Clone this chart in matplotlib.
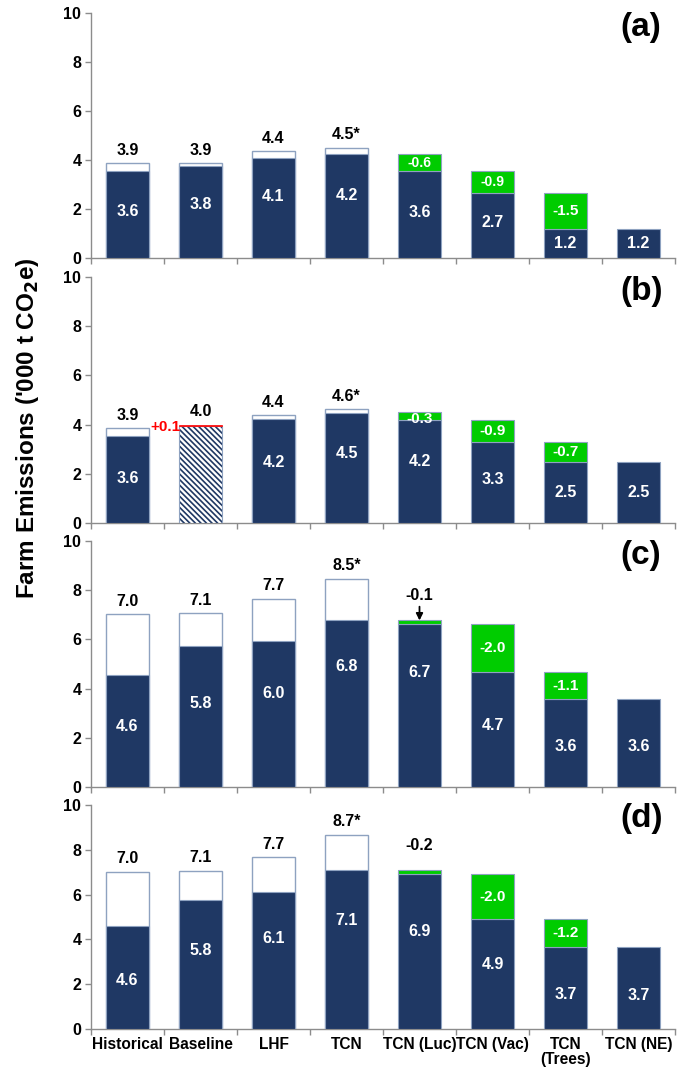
import matplotlib
matplotlib.use("Agg")
import matplotlib.pyplot as plt
import numpy as np
from matplotlib import font_manager

# ---------------- data ----------------
categories = ["Historical", "Baseline", "LHF", "TCN", "TCN (Luc)", "TCN (Vac)", "TCN\n(Trees)", "TCN (NE)"]
panel_tags = ["(a)", "(b)", "(c)", "(d)"]

# navy (dark) segment heights
dark_a = [3.55, 3.75, 4.09, 4.23, 3.55, 2.67, 1.17, 1.17]
dark_b = [3.55, 0.00, 4.22, 4.48, 4.17, 3.28, 2.46, 2.46]
dark_c = [4.57, 5.72, 5.95, 6.77, 6.63, 4.67, 3.58, 3.58]
dark_d = [4.60, 5.76, 6.13, 7.10, 6.92, 4.91, 3.67, 3.67]
dark_labels_a = ["3.6", "3.8", "4.1", "4.2", "3.6", "2.7", "1.2", "1.2"]
dark_labels_b = ["3.6", "", "4.2", "4.5", "4.2", "3.3", "2.5", "2.5"]
dark_labels_c = ["4.6", "5.8", "6.0", "6.8", "6.7", "4.7", "3.6", "3.6"]
dark_labels_d = ["4.6", "5.8", "6.1", "7.1", "6.9", "4.9", "3.7", "3.7"]

# totals including the open (white) top segment; nan = none
nan = np.nan
total_a = [3.87, 3.87, 4.36, 4.50, nan, nan, nan, nan]
total_b = [3.85, nan, 4.37, 4.62, nan, nan, nan, nan]
total_c = [7.03, 7.07, 7.65, 8.47, nan, nan, nan, nan]
total_d = [7.02, 7.07, 7.66, 8.66, nan, nan, nan, nan]
total_labels_a = ["3.9", "3.9", "4.4", "4.5*", "", "", "", ""]
total_labels_b = ["3.9", "4.0", "4.4", "4.6*", "", "", "", ""]
total_labels_c = ["7.0", "7.1", "7.7", "8.5*", "", "", "", ""]
total_labels_d = ["7.0", "7.1", "7.7", "8.7*", "", "", "", ""]

# green (reduction) segments stacked on dark
green_a = [0, 0, 0, 0, 0.68, 0.87, 1.50, 0]
green_b = [0, 0, 0, 0, 0.33, 0.90, 0.84, 0]
green_c = [0, 0, 0, 0, 0.14, 1.96, 1.09, 0]
green_d = [0, 0, 0, 0, 0.19, 2.01, 1.26, 0]
green_labels_a = ["", "", "", "", "-0.6", "-0.9", "-1.5", ""]
green_labels_b = ["", "", "", "", "-0.3", "-0.9", "-0.7", ""]
green_labels_c = ["", "", "", "", "-0.1", "-2.0", "-1.1", ""]
green_labels_d = ["", "", "", "", "-0.2", "-2.0", "-1.2", ""]

# panel (b) baseline: hatched bar with a small red increment
hatched_b = 3.93
red_b = 0.07
red_label_b = "+0.1"

# ---------------- layout (label positions) ----------------
dark_label_y = [
    [1.88, 2.2, 2.49, 2.56, 1.84, 1.43, 0.6, 0.6],
    [1.8, 0, 2.46, 2.82, 2.5, 1.78, 1.24, 1.24],
    [2.44, 3.4, 3.8, 4.9, 4.65, 2.48, 1.63, 1.63],
    [2.16, 3.5, 4.05, 4.84, 4.35, 2.86, 1.52, 1.5],
]

darks = [dark_a, dark_b, dark_c, dark_d]
dark_labels = [dark_labels_a, dark_labels_b, dark_labels_c, dark_labels_d]
totals = [total_a, total_b, total_c, total_d]
total_labels = [total_labels_a, total_labels_b, total_labels_c, total_labels_d]
greens = [green_a, green_b, green_c, green_d]
green_labels = [green_labels_a, green_labels_b, green_labels_c, green_labels_d]

NAVY = "#1F3864"
GREEN = "#00CC00"
EDGE = "#8EA2C0"
SPINE = "#8C8C8C"

avail = {f.name for f in font_manager.fontManager.ttflist}
NARROW = ["Liberation Sans Narrow", "Liberation Sans", "DejaVu Sans"] if "Liberation Sans Narrow" in avail else ["Liberation Sans", "DejaVu Sans"]
SANS = ["Liberation Sans", "DejaVu Sans"]
plt.rcParams["font.family"] = SANS
plt.rcParams["hatch.linewidth"] = 1.2

fig = plt.figure(figsize=(6.85, 10.78), dpi=100)
W, H = 685.0, 1078.0
ax_px = [(13, 258), (277, 523), (541, 787), (805, 1029)]
left_px, right_px = 91, 675

x = np.arange(len(categories))
bw = 0.6

for p in range(4):
    top, bot = ax_px[p]
    ax = fig.add_axes([left_px / W, 1 - bot / H, (right_px - left_px) / W, (bot - top) / H])
    dark = np.array(darks[p], dtype=float)
    tot = np.array(totals[p], dtype=float)
    grn = np.array(greens[p], dtype=float)

    # open (white) segments behind
    has_tot = ~np.isnan(tot)
    ax.bar(x[has_tot], tot[has_tot], width=bw, color="white", edgecolor=EDGE, linewidth=1.0, zorder=2)
    # dark segments
    ax.bar(x, dark, width=bw, color=NAVY, edgecolor=EDGE, linewidth=0.8, zorder=3)
    # green segments
    has_g = grn > 0
    ax.bar(x[has_g], grn[has_g], bottom=dark[has_g], width=bw, color=GREEN, edgecolor=EDGE, linewidth=0.8, zorder=3)

    if p == 1:
        ax.bar([1], [hatched_b], width=bw, color="white", edgecolor=NAVY, hatch="\\\\\\\\\\\\", linewidth=0, zorder=3)
        ax.bar([1], [hatched_b], width=bw, color="none", edgecolor=EDGE, linewidth=0.8, zorder=4)
        ax.bar([1], [red_b], bottom=[hatched_b], width=bw, color="#FF0000", edgecolor="#FF0000", linewidth=0.5, zorder=4)
        ax.text(1 - bw / 2 + 0.02, hatched_b + red_b / 2 - 0.08, red_label_b, ha="right", va="center",
                color="#FF0000", fontsize=11, fontweight="bold", family=NARROW, zorder=5)

    # labels inside dark bars
    for i, lab in enumerate(dark_labels[p]):
        if lab:
            ax.text(x[i], dark_label_y[p][i], lab, ha="center", va="center", color="white",
                    fontsize=11.5, fontweight="bold", family=NARROW, zorder=5)
    # labels above totals
    for i, lab in enumerate(total_labels[p]):
        if not lab:
            continue
        t = tot[i] if not np.isnan(tot[i]) else (hatched_b + red_b)
        ax.annotate(lab, xy=(x[i], t), xytext=(0, 4), textcoords="offset points", ha="center", va="bottom",
                    color="black", fontsize=11.5, fontweight="bold", family=NARROW, zorder=5)
    # green labels
    for i, lab in enumerate(green_labels[p]):
        if not lab:
            continue
        gtop = dark[i] + grn[i]
        if i == 4 and p == 2:
            ax.annotate(lab, xy=(x[i], gtop), xytext=(x[i], 7.5), ha="center", va="bottom",
                        color="black", fontsize=11.5, fontweight="bold", family=NARROW,
                        arrowprops=dict(arrowstyle="-|>", color="black", lw=1.3, shrinkA=1, shrinkB=0,
                                        mutation_scale=10), zorder=5)
        elif i == 4 and p == 3:
            ax.text(x[i], 8.17, lab, ha="center", va="center", color="black",
                    fontsize=11.5, fontweight="bold", family=NARROW, zorder=5)
        else:
            yy = dark[i] + grn[i] / 2
            if i == 4 and p == 1:
                yy = 4.23
            fs = 10 if p == 0 and i == 4 or (p == 0 and i == 5) else 11
            ax.text(x[i], yy, lab, ha="center", va="center", color="white",
                    fontsize=fs, fontweight="bold", family=NARROW, zorder=5)

    ax.set_xlim(-0.5, len(categories) - 0.5)
    ax.set_ylim(0, 10)
    ax.set_yticks([0, 2, 4, 6, 8, 10])
    ax.set_xticks(np.arange(-0.5, len(categories)), minor=False)
    ax.set_xticklabels([])
    for s in ["top", "right"]:
        ax.spines[s].set_visible(False)
    for s in ["left", "bottom"]:
        ax.spines[s].set_color(SPINE)
        ax.spines[s].set_linewidth(1.0)
    ax.tick_params(axis="both", direction="out", length=4, color=SPINE, width=1.0)
    ax.tick_params(axis="y", labelsize=11.5, pad=3)
    for lab in ax.get_yticklabels():
        lab.set_fontweight("bold")
    ax.text(0.942, 0.94, panel_tags[p], transform=ax.transAxes, ha="center", va="center",
            fontsize=24, fontweight="bold")
    if p == 3:
        ax.set_xticks(x, minor=True)
        ax.set_xticklabels(categories, minor=True, fontsize=11.2, fontweight="bold", family=NARROW,
                           linespacing=1.0)
        ax.tick_params(axis="x", which="minor", length=0, pad=6)

fig.text(28 / W, 1 - 428 / H, "Farm Emissions ('000 t CO$_\\mathbf{2}$e)", rotation=90, ha="center", va="center",
         fontsize=17.5, fontweight="bold")

fig.savefig("out.png", dpi=100)
